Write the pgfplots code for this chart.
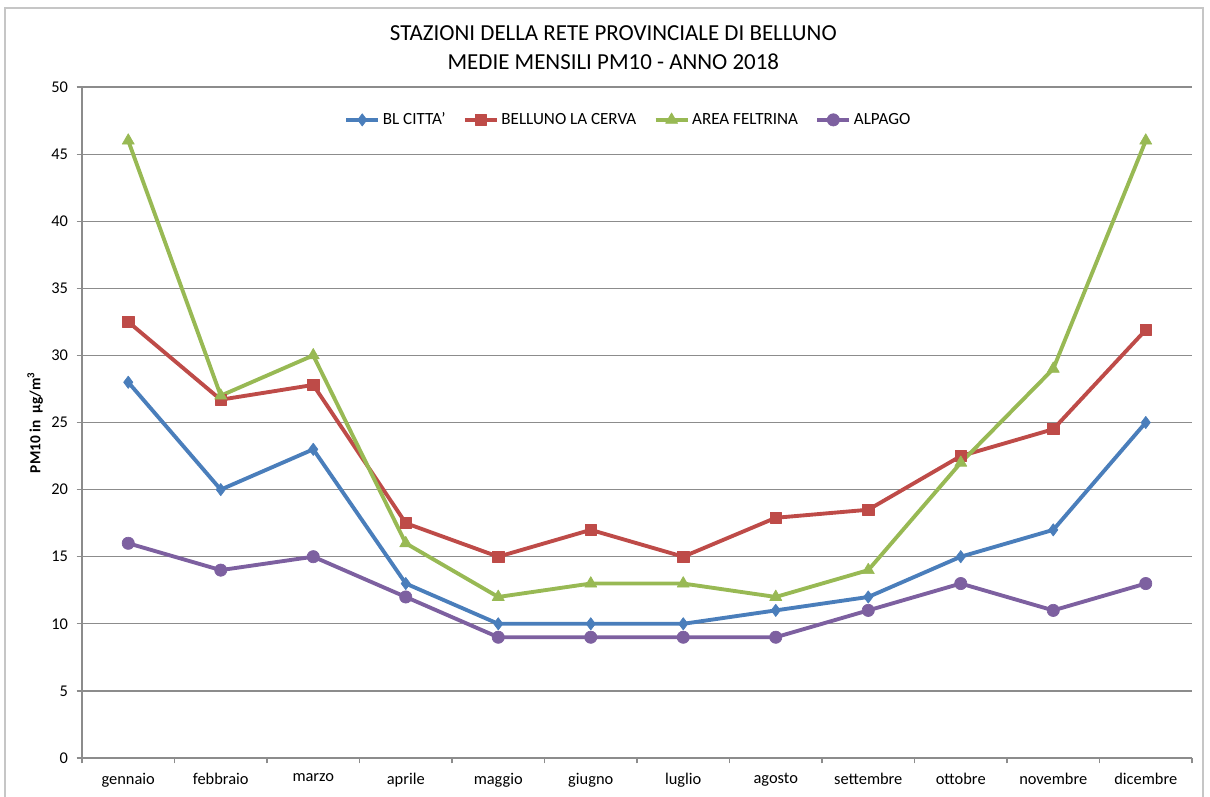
\documentclass[border=0pt]{standalone}
\usepackage{pgfplots}
\pgfplotsset{compat=1.18}
\usepackage{fontspec}
\setmainfont{Carlito}
\definecolor{cblue}{HTML}{4A7EBB}
\definecolor{cred}{HTML}{BE4B48}
\definecolor{cgreen}{HTML}{98B954}
\definecolor{cpurple}{HTML}{7D60A0}
\definecolor{gridgray}{HTML}{8C8C8C}
\begin{document}
\begin{tikzpicture}
\useasboundingbox (0,0) rectangle (907.5pt,-597pt);
\draw[gray!45, line width=1.2pt] (3.75pt,-6pt) rectangle (902.25pt,-610pt);
\node[font=\fontsize{17.2}{20}\selectfont, align=center] at (460pt,-35.5pt)
  {STAZIONI DELLA RETE PROVINCIALE DI BELLUNO\\[1.5pt]MEDIE MENSILI PM10 - ANNO 2018};
\begin{axis}[
  at={(61.5pt,-568.5pt)}, anchor=south west,
  scale only axis, width=832.5pt, height=503.25pt,
  xmin=-0.5, xmax=11.5, ymin=0, ymax=50,
  axis x line=bottom, axis y line=left,
  axis line style={gridgray, line width=0.9pt, -},
  xtick={0,...,11},
  xticklabels={gennaio,febbraio,marzo,aprile,maggio,giugno,luglio,agosto,settembre,ottobre,novembre,dicembre},
  major x tick style={draw=none},
  minor xtick={-0.5,0.5,...,11.5},
  minor x tick style={gridgray, line width=0.9pt},
  ytick={0,5,...,50},
  ymajorgrids,
  major grid style={gridgray, line width=0.9pt},
  major y tick style={gridgray, line width=0.9pt},
  tick align=outside,
  major tick length=4pt, minor tick length=4pt,
  tick label style={font=\fontsize{12.3}{14}\selectfont},
  /pgf/number format/assume math mode=true,
  xticklabel style={yshift=-4pt},
  yticklabel style={xshift=-3pt},
  ylabel={\textbf{PM10 in\ \ µg/m\textsuperscript{3}}},
  ylabel style={font=\fontsize{11.5}{13}\selectfont, at={(-0.031,0.5)}},
  legend style={at={(0.4925,0.951)}, anchor=center, draw=none, fill=none,
    legend columns=-1, font=\fontsize{12.8}{15}\selectfont,
    /tikz/every even column/.append style={column sep=11pt}},
  legend image code/.code={%
    \draw[mark repeat=2, mark phase=2] plot coordinates {(0pt,0pt) (12pt,0pt) (24pt,0pt)};},
  every axis plot/.append style={line width=2.9pt, line join=round},
]
\addplot[color=cblue, mark=diamond*, mark size=4.6pt, mark options={line width=0.5pt}] coordinates {
  (0,28) (1,20) (2,23) (3,13) (4,10) (5,10) (6,10) (7,11) (8,12) (9,15) (10,17) (11,25)};
\addlegendentry{BL CITTA'}
\addplot[color=cred, mark=square*, mark size=4.2pt, mark options={line width=0.5pt}] coordinates {
  (0,32.5) (1,26.7) (2,27.8) (3,17.5) (4,15) (5,17) (6,15) (7,17.9) (8,18.5) (9,22.5) (10,24.5) (11,31.9)};
\addlegendentry{BELLUNO LA CERVA}
\addplot[color=cgreen, mark=triangle*, mark size=5.2pt, mark options={line width=0.5pt}] coordinates {
  (0,46) (1,27) (2,30) (3,16) (4,12) (5,13) (6,13) (7,12) (8,14) (9,22) (10,29) (11,46)};
\addlegendentry{AREA FELTRINA}
\addplot[color=cpurple, mark=*, mark size=4.6pt, mark options={line width=0.5pt}] coordinates {
  (0,16) (1,14) (2,15) (3,12) (4,9) (5,9) (6,9) (7,9) (8,11) (9,13) (10,11) (11,13)};
\addlegendentry{ALPAGO}
\end{axis}
\end{tikzpicture}
\end{document}
